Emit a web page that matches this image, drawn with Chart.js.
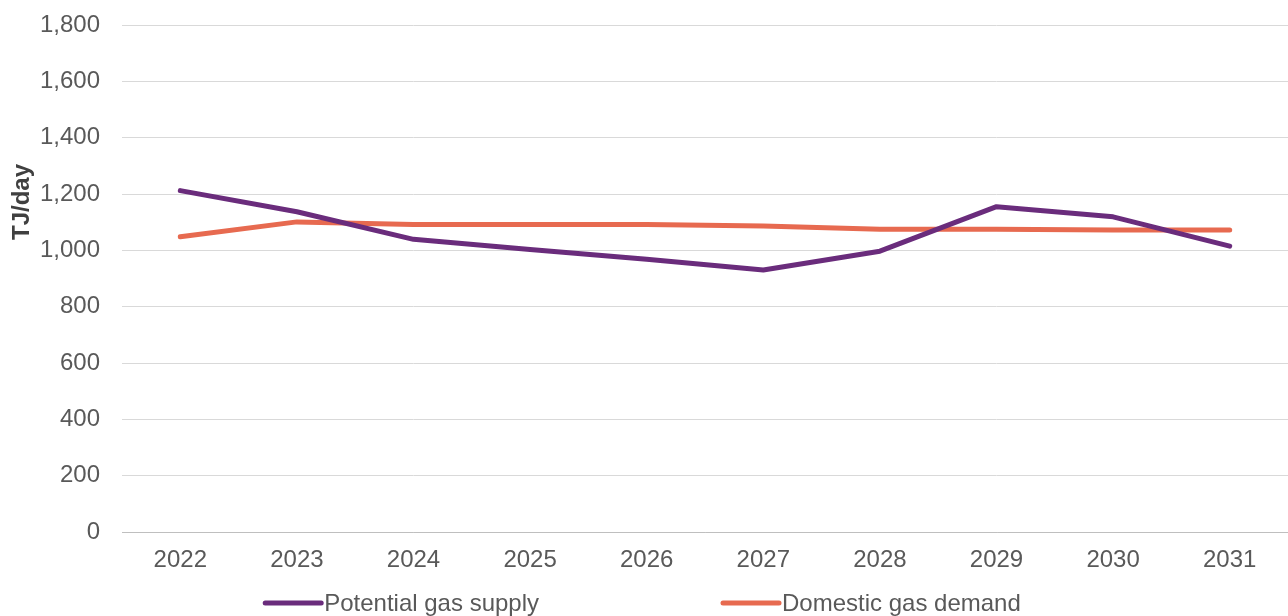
<!DOCTYPE html>
<html>
<head>
<meta charset="utf-8">
<script src="https://cdn.jsdelivr.net/npm/chart.js@4/dist/chart.umd.min.js"></script>
<style>
  html, body { margin: 0; padding: 0; background: #ffffff; }
  #wrap { width: 1288px; height: 616px; }
</style>
</head>
<body>
<div id="wrap"><canvas id="gasChart" width="1288" height="616"></canvas></div>
<script>
// Years on the x axis
const years = ['2022', '2023', '2024', '2025', '2026', '2027', '2028', '2029', '2030', '2031'];
// TJ/day
const supplyValues = [1212, 1137, 1039, 1003, 968, 930, 997, 1155, 1119, 1015];
const demandValues = [1048, 1101, 1092, 1092, 1092, 1086, 1075, 1075, 1072, 1072];
const seriesNames = ['Potential gas supply', 'Domestic gas demand'];
const seriesColors = ['#6a2c7c', '#e76a50'];
const yTitle = 'TJ/day';

const FONT = '"Liberation Sans", Arial, sans-serif';
const TEXT_COLOR = '#595959';

// bottom legend: short thick line right before the label, wide gap between items
const bottomLegend = {
    id: 'bottomLegend',
    afterDraw(chart) {
        const ctx = chart.ctx;
        const sampleW = 60;
        const gap = 182;
        const y = 603;
        ctx.save();
        ctx.font = '24px ' + FONT;
        const items = chart.data.datasets.map(ds => ({
            text: ds.label,
            color: ds.borderColor,
            w: sampleW + 1 + ctx.measureText(ds.label).width
        }));
        const total = items.reduce((s, it) => s + it.w, 0) + gap * (items.length - 1);
        let x = (chart.width - total) / 2 - 2;
        items.forEach(it => {
            ctx.strokeStyle = it.color;
            ctx.lineWidth = 5;
            ctx.lineCap = 'round';
            ctx.beginPath();
            ctx.moveTo(x + 2, y);
            ctx.lineTo(x + sampleW - 2, y);
            ctx.stroke();
            ctx.fillStyle = TEXT_COLOR;
            ctx.textBaseline = 'middle';
            ctx.textAlign = 'left';
            ctx.fillText(it.text, x + sampleW + 1, y + 1);
            x += it.w + gap;
        });
        ctx.restore();
    }
};

// y axis title sits above the middle of the axis
const yAxisTitle = {
    id: 'yAxisTitle',
    afterDraw(chart) {
        const ctx = chart.ctx;
        ctx.save();
        ctx.translate(22, 202);
        ctx.rotate(-Math.PI / 2);
        ctx.font = 'bold 24px ' + FONT;
        ctx.fillStyle = '#404040';
        ctx.textAlign = 'center';
        ctx.textBaseline = 'middle';
        ctx.fillText(yTitle, 0, 0);
        ctx.restore();
    }
};

const lineStyle = {
    borderWidth: 5,
    pointRadius: 0,
    pointHoverRadius: 0,
    tension: 0,
    fill: false,
    borderCapStyle: 'round',
    borderJoinStyle: 'round'
};

new Chart(document.getElementById('gasChart'), {
    type: 'line',
    data: {
        labels: years,
        datasets: [
            Object.assign({ label: seriesNames[0], data: supplyValues, borderColor: seriesColors[0], backgroundColor: seriesColors[0] }, lineStyle),
            Object.assign({ label: seriesNames[1], data: demandValues, borderColor: seriesColors[1], backgroundColor: seriesColors[1] }, lineStyle)
        ]
    },
    options: {
        responsive: false,
        animation: false,
        maintainAspectRatio: false,
        layout: { padding: { top: 25, left: 0, right: 0, bottom: 0 } },
        plugins: {
            legend: { display: false },
            tooltip: { enabled: false }
        },
        scales: {
            x: {
                offset: true,
                grid: { display: false, drawTicks: false },
                border: { display: true, color: '#bfbfbf', width: 1 },
                ticks: {
                    color: TEXT_COLOR,
                    font: { family: FONT, size: 24 },
                    padding: 14,
                    maxRotation: 0
                },
                afterFit(scale) {
                    scale.height = 84;
                    scale.paddingLeft = 0;
                    scale.paddingRight = 0;
                }
            },
            y: {
                min: 0,
                max: 1800,
                grid: { color: '#d9d9d9', lineWidth: 1, drawTicks: false },
                border: { display: false },
                ticks: {
                    stepSize: 200,
                    color: TEXT_COLOR,
                    font: { family: FONT, size: 24 },
                    padding: 22,
                    callback: v => v.toLocaleString('en-US')
                },
                afterFit(scale) {
                    scale.width = 122;
                    scale.paddingTop = 0;
                    scale.paddingBottom = 0;
                }
            }
        }
    },
    plugins: [bottomLegend, yAxisTitle]
});
</script>
</body>
</html>
